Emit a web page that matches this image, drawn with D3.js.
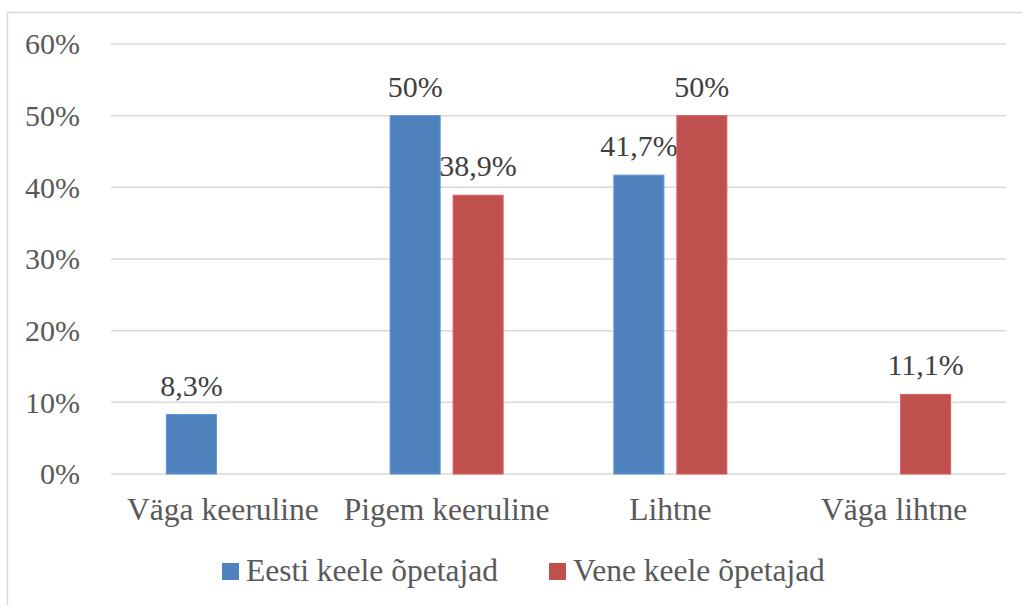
<!DOCTYPE html>
<html>
<head>
<meta charset="utf-8">
<script src="https://cdn.jsdelivr.net/npm/d3@7"></script>
</head>
<body style="margin:0; background:#fff">
<svg id="Vis" width="1022" height="605"></svg>
<script>
/*
* DATA
*/
const categories = ["Väga keeruline", "Pigem keeruline", "Lihtne", "Väga lihtne"];
const seriesNames = ["Eesti keele õpetajad", "Vene keele õpetajad"];
const eestiValues = [8.3, 50, 41.7, null];
const veneValues = [null, 38.9, 50, 11.1];
const yTicks = [0, 10, 20, 30, 40, 50, 60];
const colors = ["#4F81BD", "#C0504D"];

/*
* SETUP
*/
const serifFont = "Liberation Serif";
const svg = d3.select("svg#Vis");
const margin = { left: 111, right: 16, top: 44, bottom: 131 };
const width = 1022, height = 605;

/* chart border */
svg.append("rect")
  .attr("x", 7.5).attr("y", 12.5)
  .attr("width", 1030).attr("height", 620)
  .attr("fill", "none")
  .attr("stroke", "#d9d9d9")
  .attr("stroke-width", 1.5);

const x0 = d3.scaleBand()
  .domain(categories)
  .range([margin.left, width - margin.right]);

const x1 = d3.scaleBand()
  .domain(seriesNames)
  .range([0, x0.bandwidth()])
  .paddingInner(0.206)
  .paddingOuter(0.879);

const y = d3.scaleLinear()
  .domain([0, 60])
  .range([height - margin.bottom, margin.top]);

/* gridlines */
svg.append("g")
  .selectAll("line")
  .data(yTicks)
  .join("line")
    .attr("x1", margin.left)
    .attr("x2", width - margin.right)
    .attr("y1", d => y(d))
    .attr("y2", d => y(d))
    .attr("stroke", "#d9d9d9")
    .attr("stroke-width", 1.5);

/* y labels */
svg.append("g")
  .selectAll("text")
  .data(yTicks)
  .join("text")
    .attr("x", 80)
    .attr("y", d => y(d))
    .attr("dy", "0.34em")
    .attr("text-anchor", "end")
    .attr("font-family", d => serifFont)
    .attr("font-size", 30)
    .attr("fill", "#595959")
    .text(d => d + "%");

/* bars */
const rows = categories.map((c, i) => ({
  cat: c,
  vals: [eestiValues[i], veneValues[i]]
}));

const fmt = v => String(v).replace(".", ",") + "%";

const groups = svg.append("g")
  .selectAll("g")
  .data(rows)
  .join("g")
    .attr("transform", d => "translate(" + x0(d.cat) + ",0)");

const cells = groups.selectAll("g")
  .data(d => d.vals.map((v, j) => ({ name: seriesNames[j], v: v, j: j }))
    .filter(e => e.v !== null))
  .join("g");

cells.append("rect")
  .attr("x", d => x1(d.name))
  .attr("width", x1.bandwidth())
  .attr("y", d => y(d.v))
  .attr("height", d => y(0) - y(d.v))
  .attr("fill", d => colors[d.j])
  .attr("stroke", d => d3.color(colors[d.j]).brighter(0.4))
  .attr("stroke-width", 1);

cells.append("text")
  .attr("x", d => x1(d.name) + x1.bandwidth() / 2)
  .attr("y", d => y(d.v) - 19)
  .attr("text-anchor", "middle")
  .attr("font-family", d => serifFont)
  .attr("font-size", 30)
  .attr("fill", "#404040")
  .text(d => fmt(d.v));

/* category labels */
svg.append("g")
  .selectAll("text")
  .data(categories)
  .join("text")
    .attr("x", d => x0(d) + x0.bandwidth() / 2)
    .attr("y", 520)
    .attr("text-anchor", "middle")
    .attr("font-family", d => serifFont)
    .attr("font-size", 31.5)
    .attr("fill", "#595959")
    .text(d => d);

/* legend */
const legendX = [222, 549];
const legend = svg.append("g")
  .selectAll("g")
  .data(seriesNames)
  .join("g")
    .attr("transform", (d, i) => "translate(" + legendX[i] + ",563)");

legend.append("rect")
  .attr("width", 17).attr("height", 17)
  .attr("fill", (d, i) => colors[i]);

legend.append("text")
  .attr("x", 24)
  .attr("y", 17.5)
  .attr("font-family", d => serifFont)
  .attr("font-size", 31.5)
  .attr("fill", "#595959")
  .text(d => d);
</script>
</body>
</html>
